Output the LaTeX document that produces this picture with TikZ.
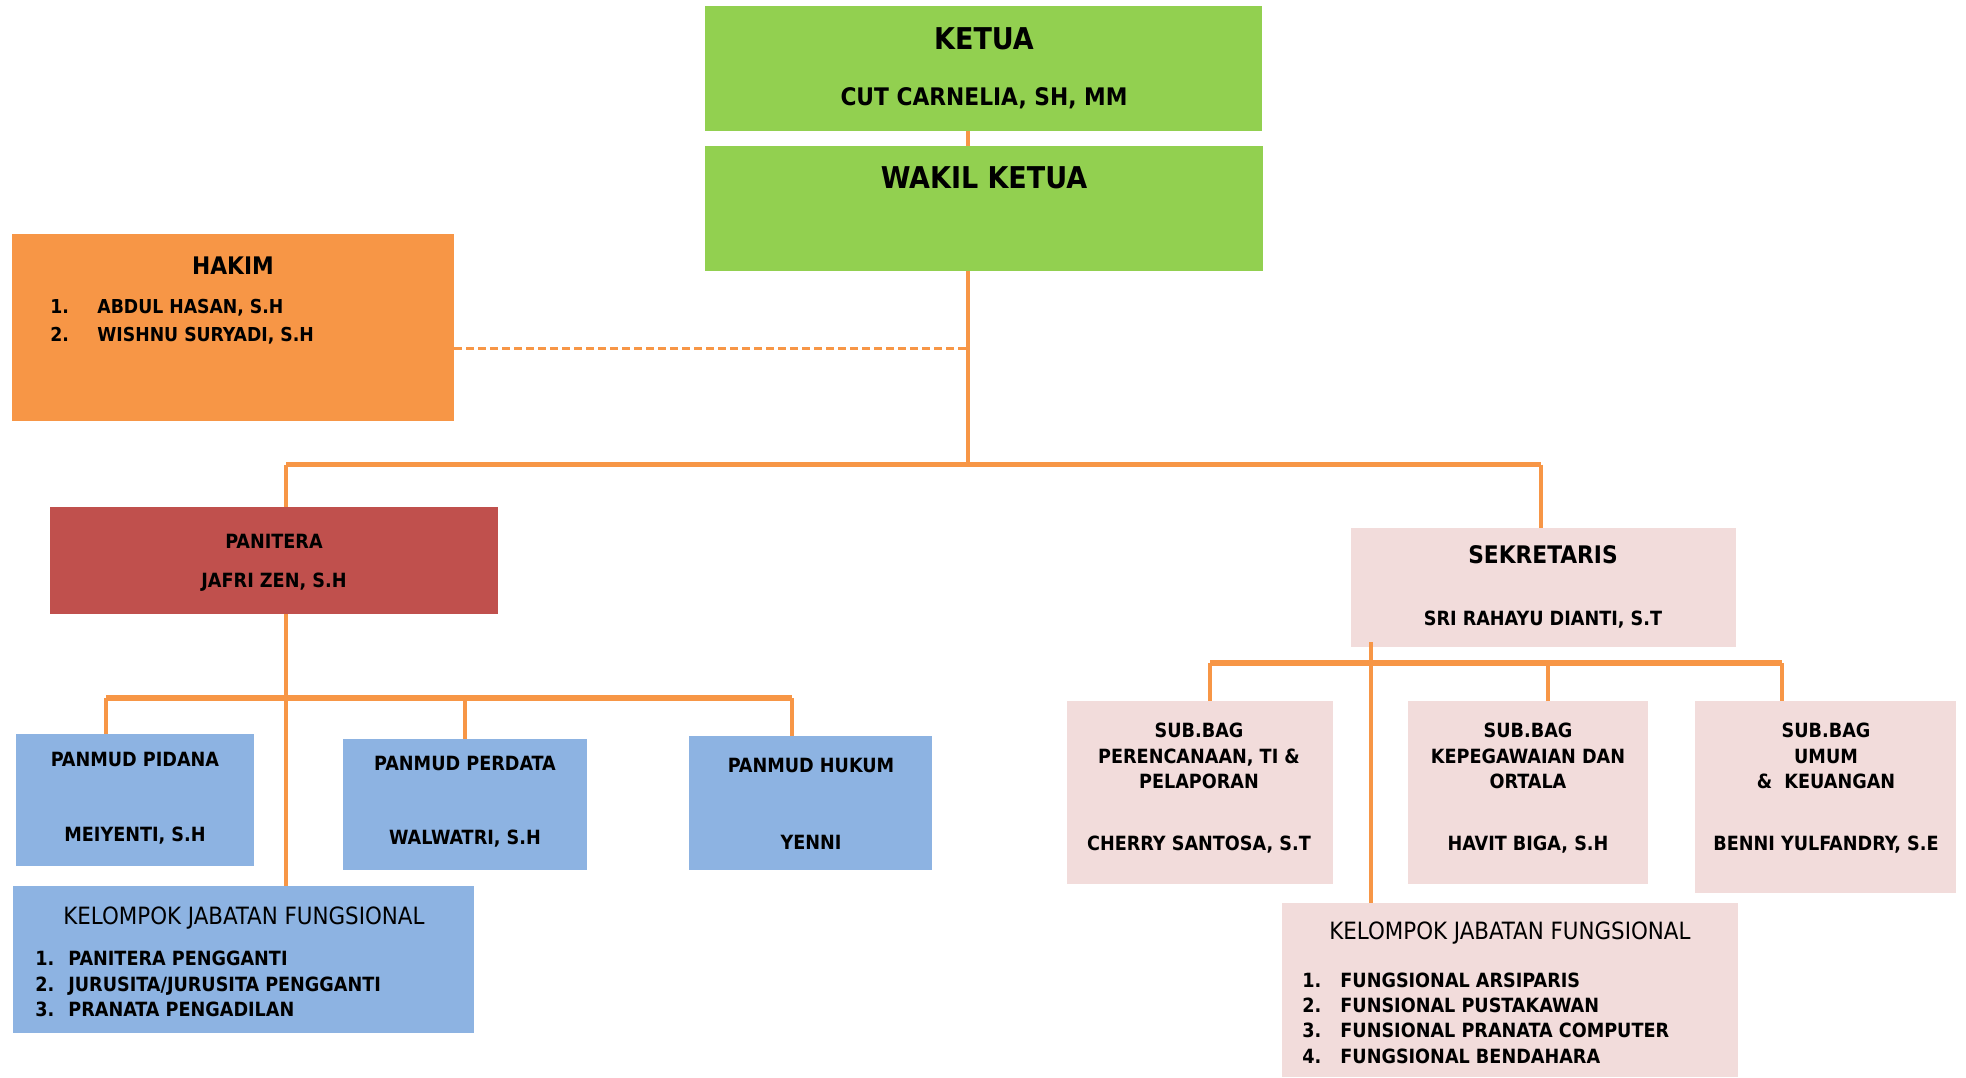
\documentclass[tikz,border=0pt]{standalone}
\usepackage{fontspec}
\setmainfont{DejaVu Sans Condensed}
\usetikzlibrary{fit}
\definecolor{hijau}{HTML}{92D050}
\definecolor{oranye}{HTML}{F79646}
\definecolor{merah}{HTML}{C0504D}
\definecolor{biru}{HTML}{8DB3E2}
\definecolor{merahmuda}{HTML}{F2DCDB}
\newcommand{\nomor}[2]{\makebox[#1][l]{#2}}
\begin{document}
\begin{tikzpicture}[x=0.5pt,y=-0.5pt,
	kotak/.style={inner sep=0pt,outer sep=0pt},
	garis/.style={draw=oranye,line width=2pt},
	palang/.style={draw=oranye,line width=3pt},
	besar/.style={inner sep=0pt,font=\fontsize{15}{18}\selectfont\bfseries},
	sedang/.style={inner sep=0pt,font=\fontsize{12.1}{14.5}\selectfont\bfseries},
	kecil/.style={inner sep=0pt,font=\fontsize{9.8}{12.7}\selectfont\bfseries,align=center},
	biasa/.style={inner sep=0pt,font=\fontsize{11.9}{14}\selectfont}]
	\useasboundingbox (0,0) rectangle (1966,1077);
	\node[kotak,fill=hijau,fit={(705,6) (1262,131)}] (ketua) {};
	\node[kotak,fill=hijau,fit={(705,146) (1263,271)}] (wakil) {};
	\node[kotak,fill=oranye,fit={(12,234) (454,421)}] (hakim) {};
	\node[kotak,fill=merah,fit={(50,507) (498,614)}] (panitera) {};
	\node[kotak,fill=merahmuda,fit={(1351,528) (1736,647)}] (sekretaris) {};
	\node[kotak,fill=biru,fit={(16,734) (254,866)}] (pidana) {};
	\node[kotak,fill=biru,fit={(343,739) (587,870)}] (perdata) {};
	\node[kotak,fill=biru,fit={(689,736) (932,870)}] (hukum) {};
	\node[kotak,fill=biru,fit={(13,886) (474,1033)}] (kelkiri) {};
	\node[kotak,fill=merahmuda,fit={(1067,701) (1333,884)}] (subbag1) {};
	\node[kotak,fill=merahmuda,fit={(1408,701) (1648,884)}] (subbag2) {};
	\node[kotak,fill=merahmuda,fit={(1695,701) (1956,893)}] (subbag3) {};
	\node[kotak,fill=merahmuda,fit={(1282,903) (1738,1077)}] (kelkanan) {};
	\node[besar] (tketua) at (984,39) {KETUA};
	\node[sedang] (nketua) at (984,98) {CUT CARNELIA, SH, MM};
	\node[besar] (twakil) at (984,178) {WAKIL KETUA};
	\node[sedang] (thakim) at (233,266) {HAKIM};
	\node[kecil,font=\fontsize{9.6}{12.7}\selectfont\bfseries,align=left,anchor=west] (nhakim) at (50,322) {\nomor{23.5pt}{1.}ABDUL HASAN, S.H\\[1.5pt]\nomor{23.5pt}{2.}WISHNU SURYADI, S.H};
	\node[kecil] (tpanitera) at (274,541) {PANITERA};
	\node[kecil] (npanitera) at (274,582) {JAFRI ZEN, S.H};
	\node[kecil] (tpidana) at (135,759) {PANMUD PIDANA};
	\node[kecil] (npidana) at (135,836) {MEIYENTI, S.H};
	\node[kecil] (tperdata) at (465,763) {PANMUD PERDATA};
	\node[kecil] (nperdata) at (465,839) {WALWATRI, S.H};
	\node[kecil] (thukum) at (811,765) {PANMUD HUKUM};
	\node[kecil] (nhukum) at (811,842) {YENNI};
	\node[biasa] (tkelkiri) at (244,918) {KELOMPOK JABATAN FUNGSIONAL};
	\node[kecil,align=left,anchor=west] (nkelkiri) at (35,984) {\nomor{16.5pt}{1.}PANITERA PENGGANTI\\\nomor{16.5pt}{2.}JURUSITA/JURUSITA PENGGANTI\\\nomor{16.5pt}{3.}PRANATA PENGADILAN};
	\node[sedang] (tsekretaris) at (1543,555) {SEKRETARIS};
	\node[kecil] (nsekretaris) at (1543,620) {SRI RAHAYU DIANTI, S.T};
	\node[kecil] (tsubbag1) at (1199,756) {SUB.BAG\\PERENCANAAN, TI \&\\PELAPORAN};
	\node[kecil] (nsubbag1) at (1199,845) {CHERRY SANTOSA, S.T};
	\node[kecil] (tsubbag2) at (1528,756) {SUB.BAG\\KEPEGAWAIAN DAN\\ORTALA};
	\node[kecil] (nsubbag2) at (1528,845) {HAVIT BIGA, S.H};
	\node[kecil] (tsubbag3) at (1826,756) {SUB.BAG\\UMUM\\\&\ \ KEUANGAN};
	\node[kecil] (nsubbag3) at (1826,845) {BENNI YULFANDRY, S.E};
	\node[biasa] (tkelkanan) at (1510,933) {KELOMPOK JABATAN FUNGSIONAL};
	\node[kecil,align=left,anchor=west] (nkelkanan) at (1302,1018) {\nomor{19pt}{1.}FUNGSIONAL ARSIPARIS\\\nomor{19pt}{2.}FUNSIONAL PUSTAKAWAN\\\nomor{19pt}{3.}FUNSIONAL PRANATA COMPUTER\\\nomor{19pt}{4.}FUNGSIONAL BENDAHARA};
	\coordinate (pusat) at (968,464.5);
	\coordinate (barkiri) at (286,464.5);
	\coordinate (barkanan) at (1541,464.5);
	\coordinate (pan) at (286,698);
	\coordinate (pankiri) at (106,698);
	\coordinate (pankanan) at (792,698);
	\coordinate (sek) at (1371,663);
	\coordinate (sekkiri) at (1210,663);
	\coordinate (sekkanan) at (1782,663);
	\draw[garis] (ketua.south -| pusat) -- (wakil.north -| pusat);
	\draw[garis] (wakil.south -| pusat) -- (pusat);
	\draw[garis,line width=1.5pt,dash pattern=on 4pt off 2pt] (hakim.east |- 0,348) -- (pusat |- 0,348);
	\draw[palang,line width=2.5pt] (barkiri) -- (barkanan);
	\draw[garis] (barkiri) -- (panitera.north -| barkiri);
	\draw[garis] (barkanan) -- (sekretaris.north -| barkanan);
	\draw[garis] (panitera.south -| pan) -- (kelkiri.north -| pan);
	\draw[palang] (pankiri) -- (pankanan);
	\draw[garis] (pankiri) -- (pidana.north -| pankiri);
	\draw[garis] (perdata.north -| 465,0) -- (465,698);
	\draw[garis] (pankanan) -- (hukum.north -| pankanan);
	\draw[garis] (1371,642) -- (kelkanan.north -| sek);
	\draw[palang] (sekkiri) -- (sekkanan);
	\draw[garis] (sekkiri) -- (subbag1.north -| sekkiri);
	\draw[garis] (subbag2.north -| 1548,0) -- (1548,663);
	\draw[garis] (sekkanan) -- (subbag3.north -| sekkanan);
\end{tikzpicture}
\end{document}
